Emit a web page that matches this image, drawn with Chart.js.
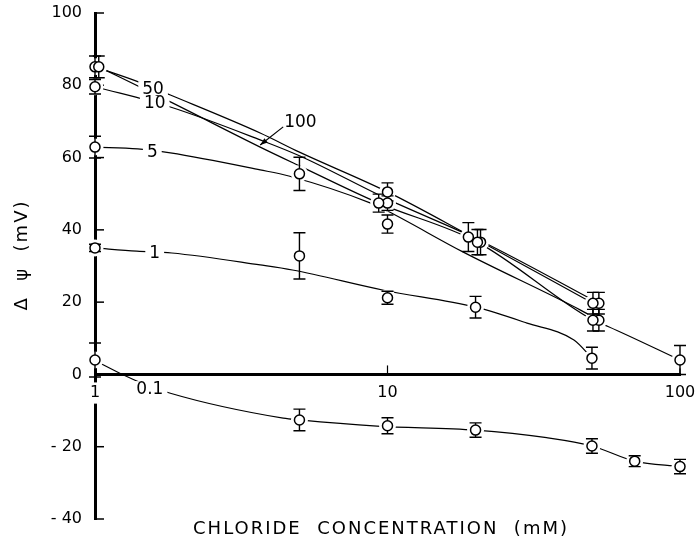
<!DOCTYPE html>
<html><head><meta charset="utf-8">
<script src="https://cdn.jsdelivr.net/npm/chart.js@4/dist/chart.umd.min.js"></script>
<style>html,body{margin:0;padding:0;background:#fff}#wrap{width:697px;height:560px}</style>
</head><body><div id="wrap"><canvas id="c" width="697" height="560"></canvas></div>
<script>
// ---------- axis ticks ----------
const xTickValues = [1, 10, 100];
const yMin = -40, yMax = 100, yStep = 20;

// ---------- measured points (x: chloride mM, y: Δψ mV, e: error) ----------
const p100X = [1.03, 9.33, 20.3, 50.4, 100];
const p100Y = [85.1, 47.4, 36.6, 15.0, 4.0];
const p100E = [3, 2.5, 3.5, 3, 4];

const p50X = [1, 10, 18.9, 50.4];
const p50Y = [85.1, 50.5, 38.0, 19.7];
const p50E = [3, 2.5, 4, 3];

const p10X = [1, 10, 20.8, 52.8];
const p10Y = [79.6, 47.4, 36.6, 19.7];
const p10E = [2, 2, 3.5, 3];

const p5X = [1, 5, 10, 52.8];
const p5Y = [62.9, 55.5, 41.6, 15.0];
const p5E = [3, 4.6, 2.5, 3];

const p1X = [1, 5, 10, 20, 50];
const p1Y = [35.0, 32.8, 21.2, 18.6, 4.5];
const p1E = [1, 6.4, 1.8, 3, 3];

const p01X = [1, 5, 10, 20, 50, 70, 100];
const p01Y = [4.0, -12.6, -14.2, -15.4, -19.8, -24, -25.5];
const p01E = [4.7, 3, 2.2, 2, 2, 1.5, 2];

// ---------- drawn curves ----------
const c100X = [1.03, 1.81, 3.67, 5, 9.33, 20.3, 50.4, 57, 100];
const c100Y = [85.1, 75.4, 62.9, 57.7, 47.4, 36.6, 15.0, 13.2, 4.0];

const c50X = [1, 1.4, 1.81, 3.67, 5, 10, 19, 50.4];
const c50Y = [85.1, 81, 77.3, 66.8, 61.5, 50.5, 38.5, 19.7];

const c10X = [1, 1.81, 3.67, 5, 10, 20.8, 52.8];
const c10Y = [79.6, 74.0, 64.9, 60.5, 48.5, 37, 19.7];

const c5X = [1, 1.4, 1.81, 3.67, 4.6, 8.76, 10, 18.1, 45.7, 52.8];
const c5Y = [62.9, 62.4, 61.3, 56.6, 54.9, 47.4, 45.2, 33.9, 17.8, 15.0];

const c1X = [1, 1.39, 1.83, 3.67, 4.73, 9.7, 20, 30, 43.4, 50];
const c1Y = [35.0, 34.1, 33.6, 30.3, 28.9, 23.3, 18.6, 14.2, 9.5, 4.5];

const c01X = [1, 1.07, 1.37, 1.81, 4.4, 5, 9.2, 20, 35, 50, 70, 100];
const c01Y = [4.0, 2.6, -1.6, -5.2, -12.1, -12.6, -14.3, -15.4, -17.5, -19.8, -24, -25.5];

// ---------- curve labels (annotation anchors) ----------
const curveLabels = [
  {t: '50', x: 1.58, y: 79.2},
  {t: '10', x: 1.60, y: 75.1},
  {t: '5', x: 1.57, y: 61.6},
  {t: '1', x: 1.60, y: 33.6},
  {t: '0.1', x: 1.54, y: -3.8},
  {t: '100', x: 5.04, y: 69.9}
];
const arrowFrom = {x: 4.4, y: 68.5};
const arrowTo = {x: 3.67, y: 63.5};

const FONT = '"DejaVu Sans", sans-serif';

function pts(xs, ys) { return xs.map((x, i) => ({x: x, y: ys[i]})); }

const pointSets = [
  [p100X, p100Y, p100E], [p50X, p50Y, p50E], [p10X, p10Y, p10E],
  [p5X, p5Y, p5E], [p1X, p1Y, p1E], [p01X, p01Y, p01E]
];
const curveSets = [[c100X, c100Y], [c50X, c50Y], [c10X, c10Y], [c5X, c5Y], [c1X, c1Y], [c01X, c01Y]];
const names = ['100', '50', '10', '5', '1', '0.1'];

const datasets = [];
pointSets.forEach((s, i) => datasets.push({
  label: 'data ' + names[i], data: pts(s[0], s[1]), errs: s[2], isPoints: true,
  showLine: false, pointRadius: 5, pointHoverRadius: 5, pointBackgroundColor: '#fff',
  pointBorderColor: '#000', pointBorderWidth: 1.5, order: 1, clip: false
}));
curveSets.forEach((s, i) => datasets.push({
  label: 'curve ' + names[i], data: pts(s[0], s[1]), borderColor: '#000', borderWidth: 1.2,
  pointRadius: 0, pointHoverRadius: 0, fill: false, tension: 0.4, cubicInterpolationMode: 'monotone',
  order: 2, clip: false
}));

const marks = {
  id: 'marks',
  beforeDraw(chart) {
    chart._haloDone = false;
    const ctx = chart.ctx;
    ctx.save(); ctx.fillStyle = '#fff'; ctx.fillRect(0, 0, chart.width, chart.height); ctx.restore();
  },
  beforeDatasetsDraw(chart) {
    const ctx = chart.ctx, xs = chart.scales.x, ys = chart.scales.y;
    const x0 = xs.getPixelForValue(xTickValues[0]);
    const yz = ys.getPixelForValue(0);
    ctx.save(); ctx.strokeStyle = '#000';
    ctx.lineWidth = 1.5;
    ys.ticks.forEach(t => {
      const py = ys.getPixelForValue(t.value);
      ctx.beginPath(); ctx.moveTo(x0, py); ctx.lineTo(x0 + 9, py); ctx.stroke();
    });
    ctx.lineWidth = 1.2;
    xTickValues.forEach(v => {
      const px = xs.getPixelForValue(v);
      ctx.beginPath(); ctx.moveTo(px, yz); ctx.lineTo(px, yz - 9); ctx.stroke();
    });
    ctx.restore();
  },
  beforeDatasetDraw(chart, args) {
    const ds = chart.data.datasets[args.index];
    if (!ds.isPoints || chart._haloDone) return;
    chart._haloDone = true;
    const ctx = chart.ctx, xs = chart.scales.x, ys = chart.scales.y;
    ctx.save();
    ctx.fillStyle = '#fff';
    chart.data.datasets.forEach(d => {
      if (!d.isPoints) return;
      d.data.forEach(p => {
        ctx.beginPath();
        ctx.arc(xs.getPixelForValue(p.x), ys.getPixelForValue(p.y), 8.5, 0, Math.PI * 2);
        ctx.fill();
      });
    });
    ctx.strokeStyle = '#000'; ctx.lineWidth = 1.4;
    chart.data.datasets.forEach(d => {
      if (!d.isPoints) return;
      d.data.forEach((p, i) => {
        const px = xs.getPixelForValue(p.x);
        const t = ys.getPixelForValue(p.y + d.errs[i]);
        const b = ys.getPixelForValue(p.y - d.errs[i]);
        ctx.beginPath();
        ctx.moveTo(px, t); ctx.lineTo(px, b);
        ctx.moveTo(px - 6, t); ctx.lineTo(px + 6, t);
        ctx.moveTo(px - 6, b); ctx.lineTo(px + 6, b);
        ctx.stroke();
      });
    });
    ctx.restore();
  },
  afterDatasetsDraw(chart) {
    const ctx = chart.ctx, xs = chart.scales.x, ys = chart.scales.y;
    ctx.save();
    ctx.font = '17px ' + FONT;
    ctx.textAlign = 'center'; ctx.textBaseline = 'middle';
    const boxes = curveLabels.map(l => {
      const px = xs.getPixelForValue(l.x), py = ys.getPixelForValue(l.y);
      const w = ctx.measureText(l.t).width;
      return {l, px, py, w};
    });
    ctx.fillStyle = '#fff';
    boxes.forEach(b => ctx.fillRect(b.px - b.w / 2 - 4, b.py - 7, b.w + 8, 14));
    ctx.fillStyle = '#000';
    boxes.forEach(b => ctx.fillText(b.l.t, b.px, b.py + 1));
    // arrow
    const ax = xs.getPixelForValue(arrowFrom.x), ay = ys.getPixelForValue(arrowFrom.y);
    const bx = xs.getPixelForValue(arrowTo.x), by = ys.getPixelForValue(arrowTo.y);
    ctx.strokeStyle = '#000'; ctx.lineWidth = 1.2;
    ctx.beginPath(); ctx.moveTo(ax, ay); ctx.lineTo(bx, by); ctx.stroke();
    const ang = Math.atan2(by - ay, bx - ax);
    ctx.beginPath();
    ctx.moveTo(bx, by);
    ctx.lineTo(bx - 8 * Math.cos(ang - 0.35), by - 8 * Math.sin(ang - 0.35));
    ctx.lineTo(bx - 8 * Math.cos(ang + 0.35), by - 8 * Math.sin(ang + 0.35));
    ctx.closePath(); ctx.fill();
    ctx.restore();
  },
  afterDraw(chart) {
    const ctx = chart.ctx;
    ctx.save();
    ctx.fillStyle = '#000';
    ctx.font = '18px ' + FONT;
    ctx.textAlign = 'center'; ctx.textBaseline = 'middle';
    ctx.letterSpacing = '2px';
    ctx.fillText('CHLORIDE  CONCENTRATION  (mM)', 381, 529);
    ctx.translate(22, 255);
    ctx.rotate(-Math.PI / 2);
    ctx.letterSpacing = '2px';
    ctx.fillText('Δ  ψ  (mV)', 0, 0);
    ctx.restore();
  }
};

new Chart(document.getElementById('c'), {
  type: 'line',
  data: {datasets: datasets},
  options: {
    responsive: false, animation: false, events: [],
    layout: {padding: {left: 0, right: 17, top: 13, bottom: 41}},
    plugins: {legend: {display: false}, tooltip: {enabled: false}, title: {display: false}},
    scales: {
      x: {
        type: 'logarithmic', min: 1, max: 100, position: {y: 0},
        afterBuildTicks: s => { s.ticks = xTickValues.map(v => ({value: v, major: true})); },
        afterFit: s => { s.paddingLeft = 0; s.paddingRight = 0; },
        ticks: {callback: v => String(v), color: '#000', font: {family: FONT, size: 16}, padding: 9,
          maxRotation: 0, autoSkip: false, z: 1,
          showLabelBackdrop: true, backdropColor: '#fff', backdropPadding: 1},
        grid: {display: false, drawTicks: false},
        border: {display: true, color: '#000', width: 3}
      },
      y: {
        type: 'linear', min: yMin, max: yMax,
        afterFit: s => { s.width = 95; s.paddingTop = 0; s.paddingBottom = 0; },
        ticks: {stepSize: yStep, color: '#000', font: {family: FONT, size: 16}, padding: 13,
          callback: v => v < 0 ? '- ' + Math.abs(v) : String(v)},
        grid: {display: false, drawTicks: false},
        border: {display: true, color: '#000', width: 3}
      }
    }
  },
  plugins: [marks]
});
</script>
</body></html>
